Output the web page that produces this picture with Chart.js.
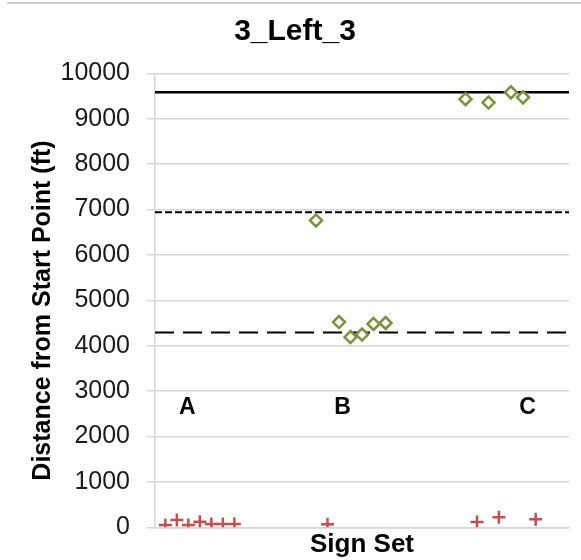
<!DOCTYPE html>
<html>
<head>
<meta charset="utf-8">
<script src="https://cdn.jsdelivr.net/npm/chart.js@4/dist/chart.umd.min.js"></script>
<style>
  body { margin: 0; background: #fff; }
  #wrap { position: relative; width: 581px; height: 560px; }
  #topline { position: absolute; left: 7px; top: 2px; width: 574px; height: 2px; background: #cfcfcf; }
</style>
</head>
<body>
<div id="wrap">
  <canvas id="chart" width="581" height="560"></canvas>
  <div id="topline"></div>
</div>
<script>
// red crosses (near zero)
const crossX = [0.9, 1.9, 2.9, 3.9, 4.9, 5.9, 6.9, 15.0, 28.0, 29.9, 33.1];
const crossY = [50, 160, 50, 125, 75, 75, 75, 65, 115, 220, 175];
// green diamonds
const diamondX = [14.0, 16.0, 17.0, 18.0, 19.0, 20.05, 27.0, 29.0, 30.95, 32.0];
const diamondY = [6760, 4520, 4190, 4245, 4480, 4500, 9430, 9355, 9580, 9470];
// reference lines
const refValues = [9580, 6940, 4290];
const refDash = [[], [7, 3], [19, 9]];
const refWidth = [2.5, 2, 2];
// sign set labels
const setLabels = ['A', 'B', 'C'];
const setLabelX = [2.8, 16.3, 32.4];
const setLabelY = [2630, 2630, 2630];
const xMin = 0, xMax = 36;
const yTicks = [0, 1000, 2000, 3000, 4000, 5000, 6000, 7000, 8000, 9000, 10000];
const chartTitle = '3_Left_3';
const yTitle = 'Distance from Start Point (ft)';

const FONT = '"Liberation Sans", Arial, sans-serif';
const toPts = (xs, ys) => xs.map((x, i) => ({x: x, y: ys[i]}));

const datasets = [
  {
    label: 'cross', data: toPts(crossX, crossY),
    pointStyle: 'cross', pointRadius: 6.5, pointBorderWidth: 2.5,
    pointBorderColor: '#c0504d', pointBackgroundColor: '#c0504d', showLine: false
  },
  {
    label: 'diamond', data: toPts(diamondX, diamondY),
    pointStyle: 'rectRot', pointRadius: 6, pointBorderWidth: 2.5,
    pointBorderColor: '#77933c', pointBackgroundColor: '#fff', showLine: false
  }
];
refValues.forEach((v, i) => {
  datasets.push({
    label: 'ref' + i, data: [{x: xMin, y: v}, {x: xMax, y: v}],
    showLine: true, pointRadius: 0, borderColor: '#000',
    borderWidth: refWidth[i], borderDash: refDash[i], fill: false
  });
});

const textPlugin = {
  id: 'texts',
  afterDraw(chart) {
    const {ctx, scales: {x, y}} = chart;
    ctx.save();
    ctx.fillStyle = '#000';
    ctx.textAlign = 'center';

    // set labels
    ctx.font = 'bold 23px ' + FONT;
    ctx.textBaseline = 'middle';
    setLabels.forEach((t, i) => {
      ctx.fillText(t, x.getPixelForValue(setLabelX[i]), y.getPixelForValue(setLabelY[i]));
    });

    // chart title
    ctx.textBaseline = 'alphabetic';
    ctx.font = 'bold 30px ' + FONT;
    ctx.fillText(chartTitle, 295, 39.5);

    // y axis title
    ctx.translate(50, 310.5);
    ctx.rotate(-Math.PI / 2);
    ctx.font = 'bold 25px ' + FONT;
    ctx.fillText(yTitle, 0, 0);
    ctx.restore();
  }
};

new Chart(document.getElementById('chart').getContext('2d'), {
  type: 'scatter',
  data: { datasets: datasets },
  options: {
    responsive: false, animation: false,
    layout: { padding: { left: 0, right: 12, top: 73.3, bottom: 0 } },
    plugins: {
      legend: { display: false },
      tooltip: { enabled: false },
      title: { display: false }
    },
    scales: {
      x: {
        type: 'linear', min: xMin, max: xMax,
        ticks: { display: false },
        grid: { display: false },
        border: { display: true, color: '#d6d6d6', width: 1.5 },
        title: {
          display: true, text: 'Sign Set', color: '#000',
          font: { family: FONT, size: 26, weight: 'bold' },
          padding: { top: 0, bottom: 0 }
        },
        afterFit(scale) { scale.height = 32.7; }
      },
      y: {
        min: 0, max: 10000,
        afterBuildTicks(scale) { scale.ticks = yTicks.map(v => ({value: v})); },
        ticks: {
          color: '#1a1a1a', padding: 17,
          font: { family: FONT, size: 25 },
          callback: v => String(v)
        },
        grid: { color: '#d6d6d6', lineWidth: 1.5, tickLength: 8 },
        border: { color: '#d6d6d6', width: 1.5 },
        afterFit(scale) { scale.width = 155; }
      }
    }
  },
  plugins: [textPlugin]
});
</script>
</body>
</html>
